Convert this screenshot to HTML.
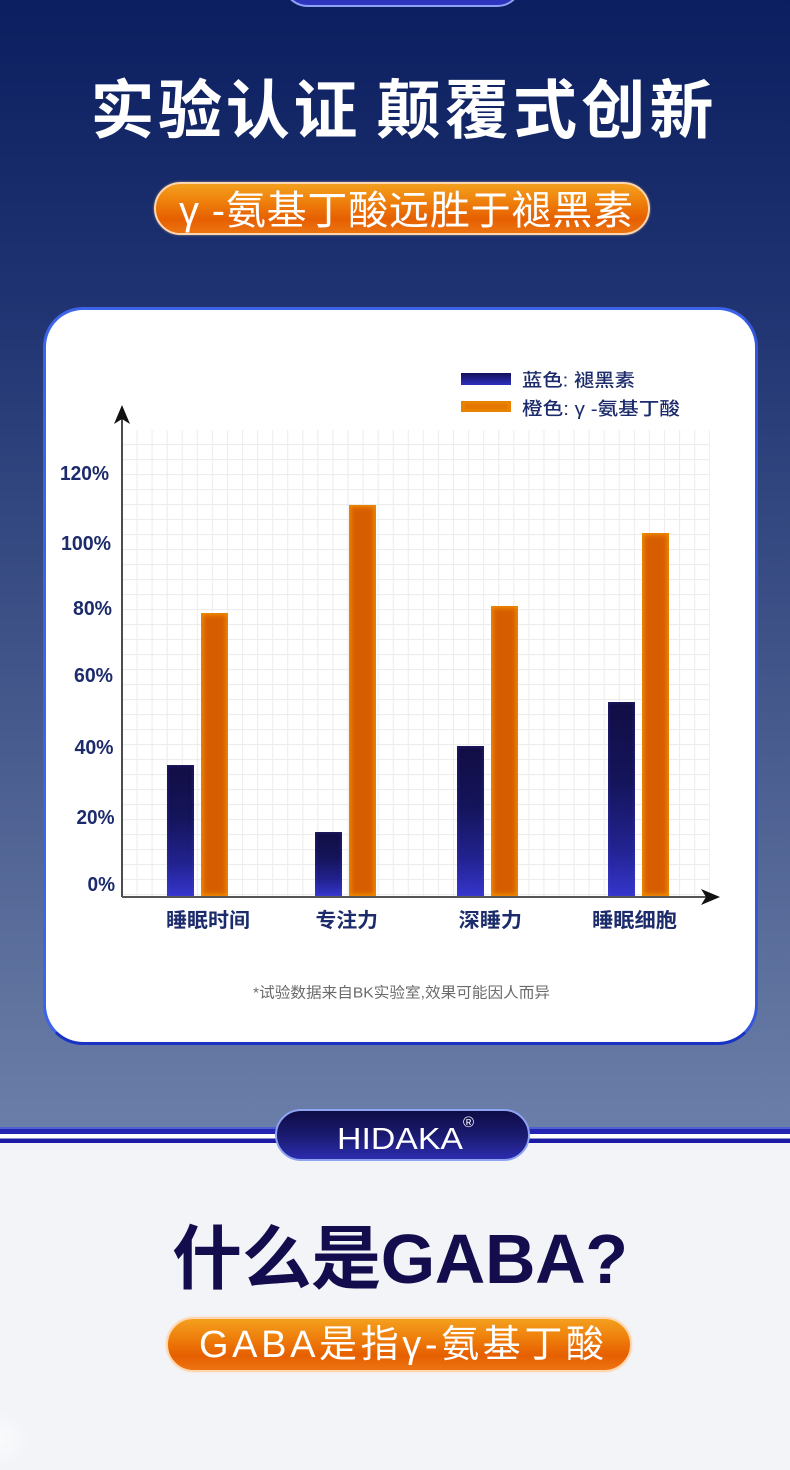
<!DOCTYPE html>
<html>
<head>
<meta charset="utf-8">
<style>
  html,body{margin:0;padding:0;}
  body{width:790px;height:1437px;position:relative;overflow:hidden;background:#f3f4f8;font-family:"Liberation Sans","Noto Sans CJK SC",sans-serif;}
  .bgtop{position:absolute;left:0;top:0;width:790px;height:1130px;
    background:linear-gradient(180deg,#0b1f60 0px,#1f3372 300px,#60739f 1000px,#6b7eaa 1130px);}
  .toppill{position:absolute;left:282px;top:-45px;width:237px;height:48px;border-radius:26px;
    background:linear-gradient(180deg,#1c1f8c,#2f36c0);border:2px solid #8fa3f5;}
  .pill{position:absolute;border-radius:28px;
    background:linear-gradient(180deg,#f4a01e 0%,#ee7c0a 40%,#e65f00 72%,#ec7412 100%);
    border:2px solid #ffd6ae;box-shadow:0 0 2px rgba(255,200,150,.6);}
  .card{position:absolute;left:43px;top:307px;width:709px;height:732px;border-radius:40px;background:#fff;
    border:3px solid;border-color:#3d63e8 #3356dc #1832c4 #3d63e8;}
  .stripe{position:absolute;left:0;top:1127px;width:790px;height:16px;
    background:linear-gradient(180deg,#5060d0 0px,#5060d0 2px,#2424b2 2px,#2424b2 7px,#ffffff 7px,#ffffff 11.5px,#1a1aa2 11.5px,#1a1aa2 16px);}
  .hpill{position:absolute;left:275px;top:1109px;width:251px;height:48px;border-radius:26px;
    background:linear-gradient(180deg,#0e0c45 0%,#1a1a70 50%,#2c2cae 100%);border:2px solid #8ea4f2;}
  .b{position:absolute;width:27px;}
  .bl{background:linear-gradient(180deg,#120d44 0%,#14145a 40%,#222290 75%,#3535cc 100%);box-shadow:inset 0 0 4px rgba(80,80,235,.35);}
  .or{background:#d75e00;box-shadow:inset 0 0 5px 2px #f08d00;}
  .blob{position:absolute;left:-30px;top:1410px;width:60px;height:60px;border-radius:50%;background:radial-gradient(circle,rgba(255,255,255,.6),rgba(255,255,255,0) 70%);}
  svg{position:absolute;left:0;top:0;}
</style>
</head>
<body>
<div class="bgtop"></div>
<div class="toppill"></div>
<div class="pill" style="left:154px;top:182px;width:492px;height:49px;"></div>
<div class="card"></div>

<svg width="790" height="1437" viewBox="0 0 790 1437">
  <defs>
    <pattern id="grid" patternUnits="userSpaceOnUse" x="136.5" y="429" width="15.07" height="15">
      <path d="M0.5 0 V15 M0 0.5 H15.07" stroke="#ededed" stroke-width="1.2" fill="none"/>
    </pattern>
    <linearGradient id="lgb" x1="0" y1="0" x2="0" y2="1">
      <stop offset="0" stop-color="#14105a"/><stop offset="0.5" stop-color="#22208a"/><stop offset="1" stop-color="#2e2ec0"/>
    </linearGradient>
  </defs>
  <rect x="122" y="430" width="588" height="467" fill="url(#grid)"/>
  <line x1="122" y1="418" x2="122" y2="897" stroke="#111" stroke-width="1.5"/>
  <path d="M122,405 L130,424 L122,419 L114,424 Z" fill="#111"/>
  <line x1="122" y1="897" x2="708" y2="897" stroke="#555" stroke-width="2"/>
  <path d="M720,897 L701,889 L706,897 L701,905 Z" fill="#111"/>
  <rect x="461" y="373" width="50" height="12" fill="url(#lgb)"/>
  <rect x="461" y="401" width="50" height="11" fill="#e88200"/>
  <rect x="465" y="404" width="42" height="5" fill="#e27000" opacity="0.6"/>
</svg>

<div class="b bl" style="left:167px;top:765px;height:131px;"></div>
<div class="b or" style="left:201px;top:613px;height:283px;"></div>
<div class="b bl" style="left:315px;top:832px;height:64px;"></div>
<div class="b or" style="left:349px;top:505px;height:391px;"></div>
<div class="b bl" style="left:457px;top:746px;height:150px;"></div>
<div class="b or" style="left:491px;top:606px;height:290px;"></div>
<div class="b bl" style="left:608px;top:702px;height:194px;"></div>
<div class="b or" style="left:642px;top:533px;height:363px;"></div>

<div class="stripe"></div>
<div class="hpill"></div>
<div class="pill" style="left:166px;top:1317px;width:462px;height:51px;"></div>
<div class="blob"></div>

<svg width="790" height="1437" viewBox="0 0 790 1437" font-family="'Liberation Sans','Noto Sans CJK SC',sans-serif">
  <text x="90.5" y="133" font-size="64" font-weight="bold" fill="#ffffff" textLength="267">实验认证</text>
  <text x="376.5" y="133" font-size="64" font-weight="bold" fill="#ffffff" textLength="337">颠覆式创新</text>
  <text x="179" y="224" font-size="40" fill="#ffffff" textLength="454">γ -氨基丁酸远胜于褪黑素</text>

  <text x="522" y="386.5" font-size="18" font-weight="500" fill="#1c2b6b" textLength="113" lengthAdjust="spacingAndGlyphs">蓝色: 褪黑素</text>
  <text x="522" y="415" font-size="18" font-weight="500" fill="#1c2b6b" textLength="158" lengthAdjust="spacingAndGlyphs">橙色: γ -氨基丁酸</text>

  <g font-size="20" font-weight="bold" fill="#1c2b6b">
    <text x="60" y="480" textLength="49" lengthAdjust="spacingAndGlyphs">120%</text>
    <text x="61" y="550" textLength="50" lengthAdjust="spacingAndGlyphs">100%</text>
    <text x="73" y="615" textLength="39" lengthAdjust="spacingAndGlyphs">80%</text>
    <text x="74" y="682" textLength="39" lengthAdjust="spacingAndGlyphs">60%</text>
    <text x="74.5" y="754" textLength="39" lengthAdjust="spacingAndGlyphs">40%</text>
    <text x="76.5" y="824" textLength="38" lengthAdjust="spacingAndGlyphs">20%</text>
    <text x="87.5" y="891" textLength="27.5" lengthAdjust="spacingAndGlyphs">0%</text>
  </g>

  <g font-size="20" font-weight="bold" fill="#1c2b6b">
    <text x="166" y="927" textLength="84" lengthAdjust="spacingAndGlyphs">睡眠时间</text>
    <text x="315.5" y="927" textLength="62.5" lengthAdjust="spacingAndGlyphs">专注力</text>
    <text x="458.7" y="927" textLength="63.3" lengthAdjust="spacingAndGlyphs">深睡力</text>
    <text x="592" y="927" textLength="85" lengthAdjust="spacingAndGlyphs">睡眠细胞</text>
  </g>

  <text x="253" y="997.5" font-size="15" fill="#6b6b6b" textLength="297" lengthAdjust="spacingAndGlyphs">*试验数据来自BK实验室,效果可能因人而异</text>

  <text x="337" y="1149" font-size="31" fill="#ffffff" textLength="126" lengthAdjust="spacingAndGlyphs">HIDAKA</text>
  <text x="463" y="1127" font-size="15" fill="#ffffff">®</text>

  <text x="172" y="1283" font-size="70" font-weight="bold" fill="#130d4d" textLength="456">什么是GABA?</text>
  <text x="199" y="1357" font-size="38" fill="#ffffff" textLength="405">GABA是指γ-氨基丁酸</text>
</svg>
</body>
</html>
